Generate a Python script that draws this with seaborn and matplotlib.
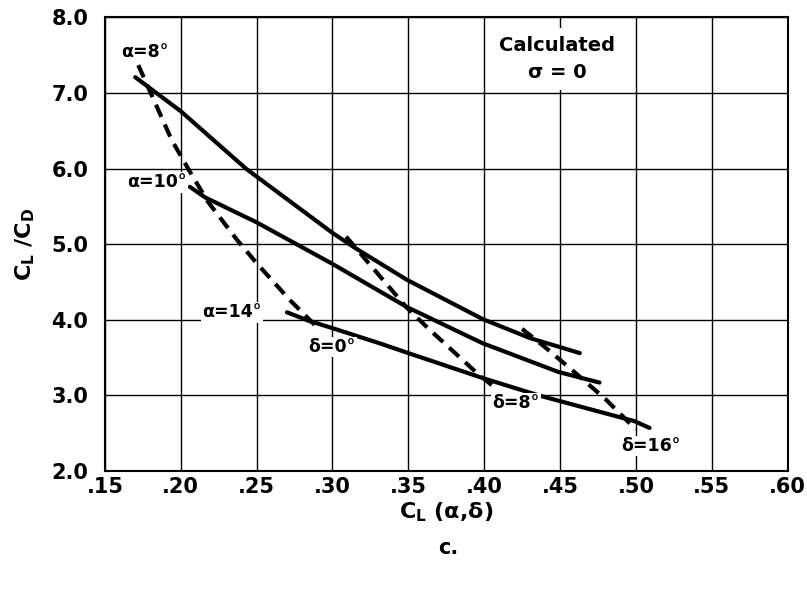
import numpy as np
import pandas as pd
import matplotlib.pyplot as plt
import seaborn as sns

# constant-alpha curves (solid)
a8_cl = [0.170, 0.200, 0.243, 0.300, 0.315, 0.349, 0.399, 0.430, 0.463]
a8_ld = [7.21, 6.76, 6.00, 5.15, 4.95, 4.53, 4.01, 3.76, 3.56]
a10_cl = [0.206, 0.216, 0.250, 0.300, 0.349, 0.399, 0.449, 0.476]
a10_ld = [5.76, 5.62, 5.29, 4.74, 4.17, 3.69, 3.31, 3.17]
a14_cl = [0.270, 0.284, 0.300, 0.331, 0.350, 0.399, 0.436, 0.499, 0.509]
a14_ld = [4.10, 3.99, 3.89, 3.69, 3.56, 3.23, 3.00, 2.66, 2.57]

# constant-delta curves (dashed)
d0_cl = [0.172, 0.194, 0.206, 0.218, 0.237, 0.250, 0.272, 0.2915]
d0_ld = [7.37, 6.38, 5.96, 5.56, 5.06, 4.75, 4.26, 3.87]
d8_cl = [0.309, 0.349, 0.364, 0.395, 0.409]
d8_ld = [5.10, 4.16, 3.87, 3.30, 3.07]
d16_cl = [0.425, 0.440, 0.460, 0.480, 0.500]
d16_ld = [3.88, 3.64, 3.30, 2.95, 2.55]

x_ticks = [0.15, 0.20, 0.25, 0.30, 0.35, 0.40, 0.45, 0.50, 0.55, 0.60]
x_labels = [".15", ".20", ".25", ".30", ".35", ".40", ".45", ".50", ".55", ".60"]
y_ticks = [2, 3, 4, 5, 6, 7, 8]
y_labels = ["2.0", "3.0", "4.0", "5.0", "6.0", "7.0", "8.0"]

curves = [
    ("a8", "solid", a8_cl, a8_ld),
    ("a10", "solid", a10_cl, a10_ld),
    ("a14", "solid", a14_cl, a14_ld),
    ("d0", "dashed", d0_cl, d0_ld),
    ("d8", "dashed", d8_cl, d8_ld),
    ("d16", "dashed", d16_cl, d16_ld),
]
df = pd.concat([pd.DataFrame({"curve": n, "kind": k, "CL": x, "LD": y})
                for n, k, x, y in curves], ignore_index=True)

sns.set_style("whitegrid")
plt.rcParams["font.family"] = ["DejaVu Sans"]
plt.rcParams["font.weight"] = "bold"
plt.rcParams["text.color"] = "black"
plt.rcParams["axes.labelcolor"] = "black"
plt.rcParams["xtick.color"] = "black"
plt.rcParams["ytick.color"] = "black"

fig = plt.figure(figsize=(8.07, 5.93), dpi=100)
ax = fig.add_axes([0.130, 0.2057, 0.846, 0.7648])

sns.lineplot(data=df, x="CL", y="LD", units="curve", estimator=None,
             style="kind", dashes={"solid": "", "dashed": (3.2, 2.0)},
             sort=False, color="black", lw=3, legend=False, ax=ax)

ax.set_xlim(0.15, 0.60)
ax.set_ylim(2.0, 8.0)
ax.set_xticks(x_ticks)
ax.set_xticklabels(x_labels, fontsize=15, fontweight="bold")
ax.set_yticks(y_ticks)
ax.set_yticklabels(y_labels, fontsize=15, fontweight="bold")
ax.tick_params(length=0, pad=4)
ax.tick_params(axis="y", pad=12)
ax.grid(True, color="black", lw=1.0)
for s in ax.spines.values():
    s.set_color("black")
    s.set_linewidth(1.5)

ax.set_xlabel(r"C$_\mathsf{L}$ (α,δ)", fontsize=16, fontweight="bold", labelpad=3)
ax.set_ylabel(r"C$_\mathsf{L}$ /C$_\mathsf{D}$", fontsize=16, fontweight="bold", labelpad=10)

box = dict(facecolor="white", edgecolor="none", pad=1)
lbl = dict(fontsize=12.5, fontweight="bold", ha="center", va="center", bbox=box)
ax.text(0.1763, 7.54, "α=8°", **lbl)
ax.text(0.184, 5.82, "α=10°", **lbl)
ax.text(0.2335, 4.10, "α=14°", **lbl)
ax.text(0.2994, 3.64, "δ=0°", **lbl)
ax.text(0.421, 2.90, "δ=8°", **lbl)
ax.text(0.51, 2.33, "δ=16°", **lbl)
ax.text(0.448, 7.45, "Calculated\nσ = 0", fontsize=14, fontweight="bold",
        ha="center", va="center", linespacing=1.5,
        bbox=dict(facecolor="white", edgecolor="none", pad=6))

fig.text(448 / 807, 1 - 548 / 593, "c.", fontsize=15, fontweight="bold",
         ha="center", va="center")

fig.savefig("out.png", dpi=100)
